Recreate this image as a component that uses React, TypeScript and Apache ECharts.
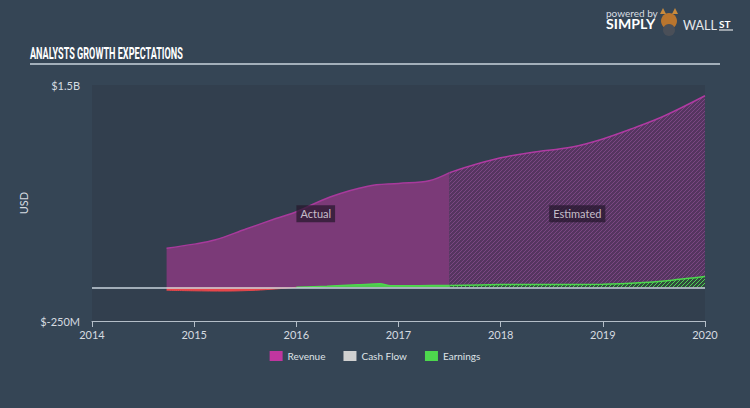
import React, { useEffect, useRef } from "react";
import * as echarts from "echarts";

const yearTicks = [2014, 2015, 2016, 2017, 2018, 2019, 2020];

const revenueActualX = [2014.73, 2015.0, 2015.2, 2015.5, 2015.8, 2016.0, 2016.33, 2016.7, 2017.0, 2017.3, 2017.5];
const revenueActualY = [0.29, 0.32, 0.35, 0.43, 0.51, 0.56, 0.67, 0.75, 0.77, 0.79, 0.85];

const revenueEstX = [2017.5, 2017.75, 2018.0, 2018.3, 2018.7, 2019.0, 2019.3, 2019.6, 2020.0];
const revenueEstY = [0.85, 0.91, 0.96, 1.0, 1.04, 1.1, 1.18, 1.27, 1.42];

const earningsNegX = [2014.73, 2015.0, 2015.3, 2015.6, 2015.8, 2016.0];
const earningsNegY = [-0.022, -0.026, -0.028, -0.022, -0.012, 0.0];

const earningsActX = [2016.0, 2016.3, 2016.6, 2016.82, 2016.92, 2017.2, 2017.5];
const earningsActY = [0.0, 0.008, 0.018, 0.026, 0.012, 0.012, 0.014];

const earningsEstX = [2017.5, 2018.0, 2018.5, 2019.0, 2019.4, 2019.7, 2020.0];
const earningsEstY = [0.014, 0.02, 0.021, 0.022, 0.035, 0.055, 0.08];

const periodLabels = ["Actual", "Estimated"];
const periodLabelX = [2016.19, 2018.75];
const periodLabelY = [0.545, 0.545];

const TITLE = "ANALYSTS GROWTH EXPECTATIONS";

const B = 1e9;
const pair = (xs: number[], ys: number[]) => xs.map((x, i) => [x, ys[i] * B]);

function hatch(bg: string, fg: string): string {
  const c = document.createElement("canvas");
  c.width = 4;
  c.height = 4;
  const ctx = c.getContext("2d")!;
  ctx.fillStyle = bg;
  ctx.fillRect(0, 0, 4, 4);
  ctx.strokeStyle = fg;
  ctx.lineWidth = 1;
  ctx.beginPath();
  ctx.moveTo(0, 4);
  ctx.lineTo(4, 0);
  ctx.moveTo(-1, 1);
  ctx.lineTo(1, -1);
  ctx.moveTo(3, 5);
  ctx.lineTo(5, 3);
  ctx.stroke();
  return c.toDataURL();
}

function measure(text: string, font: string): number {
  const c = document.createElement("canvas");
  const ctx = c.getContext("2d")!;
  ctx.font = font;
  return ctx.measureText(text).width;
}

export default function App() {
  const ref = useRef<HTMLDivElement>(null);
  useEffect(() => {
    const chart = echarts.init(ref.current!, undefined, { renderer: "svg" });
    const revHatch = hatch("#553560", "#7a4782");
    const earnHatch = hatch("#2f4a3c", "#4fcf56");
    const titleW = measure(TITLE, "bold 17px Roboto");
    const titleScale = 153 / titleW;
    const simplyW = measure("SIMPLY", "bold 13px Lato");
    const wallW = measure("WALL", "13px Lato");
    chart.setOption({
      animation: false,
      backgroundColor: "#354555",
      textStyle: { fontFamily: "Lato, sans-serif" },
      graphic: [
        {
          type: "text",
          x: 30,
          y: 44,
          scaleX: titleScale,
          style: { text: TITLE, fill: "#ffffff", fontSize: 17, fontWeight: "bold", fontFamily: "Roboto, sans-serif" },
        },
        { type: "line", shape: { x1: 30, y1: 64, x2: 720, y2: 64 }, style: { stroke: "#c9d3dc", lineWidth: 1.5 } },
        { type: "text", x: 606, y: 8, style: { text: "powered by", fill: "#d8dde2", fontSize: 10, fontFamily: "Lato, sans-serif" } },
        {
          type: "text",
          x: 606,
          y: 18,
          scaleX: 49 / simplyW,
          style: { text: "SIMPLY", fill: "#ffffff", fontSize: 13, fontWeight: "bold", fontFamily: "Lato, sans-serif" },
        },
        { type: "circle", shape: { cx: 669, cy: 21, r: 8 }, style: { fill: "#b9752e" } },
        { type: "polygon", shape: { points: [[660, 14], [663, 8], [666, 14]] }, style: { fill: "#c98a3c" } },
        { type: "polygon", shape: { points: [[672, 14], [675, 8], [678, 14]] }, style: { fill: "#c98a3c" } },
        { type: "circle", shape: { cx: 669, cy: 30, r: 6 }, style: { fill: "#4a4f58" } },
        {
          type: "text",
          x: 683,
          y: 18,
          scaleX: 34 / wallW,
          style: { text: "WALL", fill: "#e6e9ec", fontSize: 13, fontFamily: "Lato, sans-serif" },
        },
        { type: "text", x: 719, y: 19, style: { text: "ST", fill: "#ffffff", fontSize: 10, fontWeight: "bold", fontFamily: "Lato, sans-serif" } },
        { type: "line", shape: { x1: 719, y1: 30, x2: 733, y2: 30 }, style: { stroke: "#ffffff", lineWidth: 1 } },
      ],
      grid: {
        left: 92,
        right: 45,
        top: 85,
        bottom: 87,
        show: true,
        backgroundColor: "#323f4e",
        borderWidth: 0,
      },
      legend: {
        bottom: 42,
        left: "center",
        itemWidth: 13,
        itemHeight: 10,
        itemGap: 18,
        icon: "rect",
        textStyle: { color: "#dfe3e7", fontSize: 10 },
        data: [
          { name: "Revenue", itemStyle: { color: "#c0369f" } },
          { name: "Cash Flow", itemStyle: { color: "#d0d0d0" } },
          { name: "Earnings", itemStyle: { color: "#4dd84d" } },
        ],
      },
      xAxis: {
        type: "value",
        min: yearTicks[0],
        max: yearTicks[yearTicks.length - 1],
        interval: 1,
        axisLine: { onZero: false, lineStyle: { color: "#b4bec8", width: 1 } },
        axisTick: { show: true, length: 6, lineStyle: { color: "#b4bec8" } },
        axisLabel: { color: "#d6dbe0", fontSize: 11, margin: 8, formatter: (v: number) => String(v) },
        splitLine: { show: false },
      },
      yAxis: {
        type: "value",
        min: -0.25 * B,
        max: 1.5 * B,
        interval: 0.25 * B,
        name: "USD",
        nameLocation: "middle",
        nameRotate: 90,
        nameGap: 26,
        nameTextStyle: { color: "#d6dbe0", fontSize: 11 },
        axisLine: { show: false },
        axisTick: { show: false },
        splitLine: { show: false },
        axisLabel: {
          color: "#d6dbe0",
          fontSize: 11,
          margin: 12,
          formatter: (v: number) => (Math.abs(v - 1.5 * B) < 1 ? "$1.5B" : Math.abs(v + 0.25 * B) < 1 ? "$-250M" : ""),
        },
      },
      series: [
        {
          name: "Revenue",
          type: "line",
          data: pair(revenueActualX, revenueActualY),
          smooth: 0.35,
          symbol: "none",
          lineStyle: { color: "#a83a9c", width: 1.5 },
          areaStyle: { color: "#7b3a78", opacity: 1 },
          z: 2,
        },
        {
          name: "Revenue",
          type: "line",
          data: pair(revenueEstX, revenueEstY),
          smooth: 0.35,
          symbol: "none",
          lineStyle: { color: "#b03aa2", width: 1.5 },
          areaStyle: { color: { image: revHatch, repeat: "repeat" }, opacity: 1 },
          z: 2,
        },
        {
          name: "Cash Flow",
          type: "line",
          data: [],
          symbol: "none",
          itemStyle: { color: "#d0d0d0" },
        },
        {
          name: "Earnings",
          type: "line",
          data: pair(earningsNegX, earningsNegY),
          smooth: 0.3,
          symbol: "none",
          lineStyle: { color: "#e8474b", width: 1 },
          areaStyle: { color: "#e8474b", opacity: 1 },
          z: 4,
        },
        {
          name: "Earnings",
          type: "line",
          data: pair(earningsActX, earningsActY),
          smooth: 0.3,
          symbol: "none",
          lineStyle: { color: "#4dd84d", width: 1.5 },
          areaStyle: { color: "#4cc94c", opacity: 1 },
          z: 4,
        },
        {
          name: "Earnings",
          type: "line",
          data: pair(earningsEstX, earningsEstY),
          smooth: 0.3,
          symbol: "none",
          lineStyle: { color: "#4dd84d", width: 1.5 },
          areaStyle: { color: { image: earnHatch, repeat: "repeat" }, opacity: 1 },
          z: 4,
          markLine: {
            silent: true,
            symbol: "none",
            label: { show: false },
            lineStyle: { color: "#c9d3dc", width: 1.5, type: "solid" },
            data: [{ yAxis: 0 }],
          },
        },
        {
          name: "periods",
          type: "scatter",
          silent: true,
          symbolSize: 1,
          itemStyle: { color: "rgba(0,0,0,0)" },
          z: 10,
          data: periodLabels.map((t, i) => ({ value: [periodLabelX[i], periodLabelY[i] * B], name: t })),
          label: {
            show: true,
            position: "inside",
            formatter: (p: any) => p.name,
            color: "#ece6ee",
            fontSize: 11,
            fontFamily: "Lato, sans-serif",
            backgroundColor: "rgba(38,24,44,0.9)",
            padding: [3, 4, 3, 4],
          },
        },
      ],
    });
    return () => chart.dispose();
  }, []);
  return (
    <div
      ref={ref}
      style={{ position: "absolute", left: 0, top: 0, width: 750, height: 408 }}
    />
  );
}
